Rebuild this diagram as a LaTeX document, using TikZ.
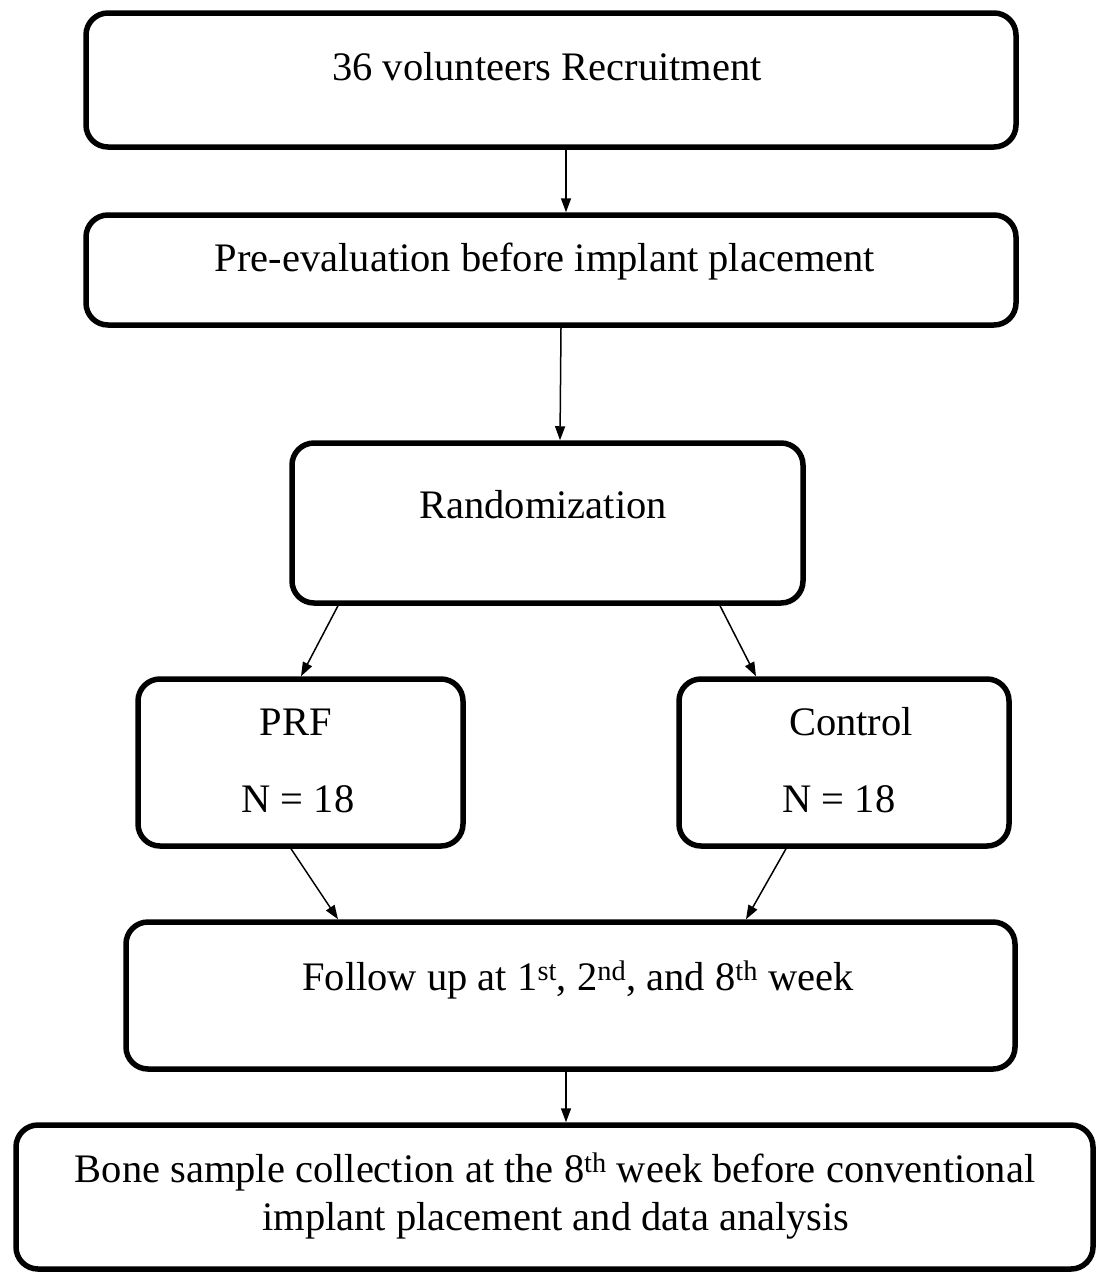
\documentclass[tikz,border=0pt]{standalone}
\usepackage{fontspec}
\setmainfont{Liberation Serif}
\usetikzlibrary{arrows.meta}
\begin{document}
\begin{tikzpicture}[x=1pt,y=-1pt,
  box/.style={draw=black,line width=5.5pt,rounded corners=22pt,inner sep=0pt,fill=white},
  lbl/.style={font=\fontsize{40.5}{48}\selectfont,anchor=base,inner sep=0pt},
  arr/.style={line width=1.5pt,-{Triangle[length=14pt,width=10pt]}}]
\useasboundingbox (0,0) rectangle (1098,1274);
\fill[white] (0,0) rectangle (1098,1274);
% boxes
\node[box,minimum width=930pt,minimum height=134pt] (b1) at (551,80) {};
\node[box,minimum width=930pt,minimum height=110pt] (b2) at (551,270) {};
\node[box,minimum width=511pt,minimum height=160pt] (b3) at (547.5,523) {};
\node[box,minimum width=325pt,minimum height=167pt] (prf) at (300.5,762.5) {};
\node[box,minimum width=330pt,minimum height=167pt] (ctl) at (844,762.5) {};
\node[box,minimum width=889pt,minimum height=147pt] (fol) at (570.5,995.5) {};
\node[box,minimum width=1077pt,minimum height=144pt] (bone) at (554.5,1197) {};
% texts
\node[lbl] (t1) at (547,80) {36 volunteers Recruitment};
\node[lbl] (t2) at (545,271) {Pre-evaluation before implant placement};
\node[lbl] (t3) at (543,518) {Randomization};
\node[lbl] (tprf) at (296,735) {PRF};
\node[lbl] (nprf) at (298,812) {N = 18};
\node[lbl] (tctl) at (851,735) {Control};
\node[lbl] (nctl) at (839,812) {N = 18};
\node[lbl] (tfol) at (578,990) {Follow up at 1\textsuperscript{st}, 2\textsuperscript{nd}, and 8\textsuperscript{th} week};
\node[lbl] (tb1) at (555,1182) {Bone sample collection at the 8\textsuperscript{th} week before conventional};
\node[lbl] (tb2) at (556,1230) {implant placement and data analysis};
% connectors
\draw[arr] ([xshift=15pt]b1.south) -- ([xshift=15pt]b2.north);
\draw[arr] ([xshift=10pt]b2.south) -- ([xshift=12.5pt]b3.north);
\draw[arr] ([xshift=-209.5pt]b3.south) -- ([xshift=0.5pt]prf.north);
\draw[arr] ([xshift=172.5pt]b3.south) -- ([xshift=-88pt]ctl.north);
\draw[arr] ([xshift=-9.5pt]prf.south) -- ([xshift=-232.5pt]fol.north);
\draw[arr] ([xshift=-58pt]ctl.south) -- ([xshift=175.5pt]fol.north);
\draw[arr] ([xshift=-4.5pt]fol.south) -- ([xshift=11.5pt]bone.north);
\end{tikzpicture}
\end{document}
